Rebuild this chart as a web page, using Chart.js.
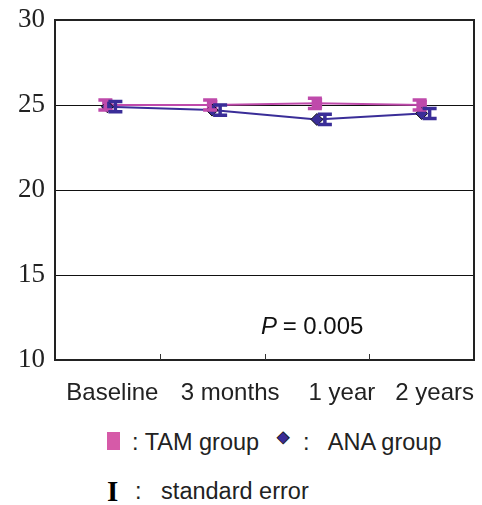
<!DOCTYPE html>
<html>
<head>
<meta charset="utf-8">
<script src="https://cdn.jsdelivr.net/npm/chart.js@4.4.1/dist/chart.umd.min.js"></script>
<style>
  body { margin: 0; background: #fff; width: 482px; height: 505px; position: relative; overflow: hidden; }
  #wrap { position: absolute; left: 0; top: 0; width: 482px; height: 410px; }
  .leg { position: absolute; font-family: "Liberation Sans", Arial, sans-serif; font-size: 23.5px; color: #222; white-space: pre; line-height: 28px; }
  .sq { position: absolute; width: 13px; height: 18px; background: #d65aa8; }
</style>
</head>
<body>
<div id="wrap"><canvas id="chart"></canvas></div>
<div class="sq" style="left:107px; top:432px;"></div>
<div class="leg" style="left:132px; top:428px;">: TAM group</div>
<div class="leg" style="left:277px; top:423px; font-size:16px; color:#3a2d98; -webkit-text-stroke:0.8px #111;">◆</div>
<div class="leg" style="left:303px; top:428px;">:   ANA group</div>
<div class="leg" style="left:107px; top:477px; font-family:'Liberation Serif', serif; font-weight:bold; font-size:29px; color:#000;">I</div>
<div class="leg" style="left:135px; top:477px;">:   standard error</div>
<script>
// Datos
const categories = ['Baseline', '3 months', '1 year', '2 years'];
const tamValues = [25.0, 25.0, 25.1, 25.0];
const tamErr = [0.3, 0.3, 0.3, 0.3];
const anaValues = [24.9, 24.7, 24.15, 24.5];
const anaErr = [0.3, 0.3, 0.3, 0.3];
const yTicks = [10, 15, 20, 25, 30];

const tamColor = '#bf4aab';
const anaColor = '#3a2d98';
// desplazamiento horizontal de cada etiqueta del eje x
const labelShift = [5, 18, 25, 13];

// Barras de error, etiquetas y marcas del eje x
const errorBars = {
    id: 'errorBars',
    afterDatasetsDraw(chart) {
        const ctx = chart.ctx;
        const x = chart.scales.x, y = chart.scales.y;
        const sets = [
            { vals: tamValues, err: tamErr, color: tamColor, dx: -2 },
            { vals: anaValues, err: anaErr, color: anaColor, dx: 8 }
        ];
        ctx.save();
        sets.forEach(s => {
            ctx.strokeStyle = s.color;
            ctx.lineWidth = 3.5;
            ctx.lineCap = 'butt';
            s.vals.forEach((v, i) => {
                const px = x.getPixelForValue(i) + s.dx;
                const top = y.getPixelForValue(v + s.err[i]);
                const bot = y.getPixelForValue(v - s.err[i]);
                ctx.beginPath();
                ctx.moveTo(px, top); ctx.lineTo(px, bot);
                ctx.moveTo(px - 7, top); ctx.lineTo(px + 7, top);
                ctx.moveTo(px - 7, bot); ctx.lineTo(px + 7, bot);
                ctx.stroke();
            });
        });
        // marcas pequeñas en el eje inferior
        ctx.strokeStyle = '#333';
        ctx.lineWidth = 1;
        for (let i = 1; i < categories.length; i++) {
            const px = Math.round((x.getPixelForValue(i - 1) + x.getPixelForValue(i)) / 2) + 0.5;
            ctx.beginPath();
            ctx.moveTo(px, y.bottom);
            ctx.lineTo(px, y.bottom - 6);
            ctx.stroke();
        }
        // etiquetas de categorías
        ctx.fillStyle = '#222';
        ctx.textAlign = 'center';
        ctx.textBaseline = 'middle';
        ctx.font = '24px "Liberation Sans", Arial, sans-serif';
        categories.forEach((c, i) => {
            ctx.fillText(c, x.getPixelForValue(i) + labelShift[i], y.bottom + 33);
        });
        // P valor
        ctx.fillStyle = '#111';
        ctx.textAlign = 'left';
        ctx.font = 'italic 24px "Liberation Sans", Arial, sans-serif';
        ctx.fillText('P', 261, 327);
        ctx.font = '24px "Liberation Sans", Arial, sans-serif';
        ctx.fillText(' = 0.005', 276, 327);
        ctx.restore();
    }
};

function initChart() {
    new Chart(document.getElementById('chart'), {
        type: 'line',
        data: {
            labels: categories,
            datasets: [{
                label: 'ANA group',
                data: anaValues,
                borderColor: anaColor,
                borderWidth: 2,
                pointStyle: 'rectRot',
                pointRadius: 6,
                pointBackgroundColor: anaColor,
                pointBorderColor: '#111',
                pointBorderWidth: 1,
                tension: 0
            }, {
                label: 'TAM group',
                data: tamValues,
                borderColor: tamColor,
                borderWidth: 2,
                pointStyle: 'rect',
                pointRadius: 6,
                pointBackgroundColor: tamColor,
                pointBorderColor: tamColor,
                tension: 0
            }]
        },
        options: {
            responsive: false,
            animation: false,
            devicePixelRatio: 1,
            layout: { padding: { top: 20, right: 8, left: 0, bottom: 0 } },
            plugins: { legend: { display: false }, tooltip: { enabled: false } },
            scales: {
                x: {
                    offset: true,
                    grid: { display: false },
                    border: { color: '#222', width: 2 },
                    ticks: { display: false },
                    afterFit: s => { s.height = 50; }
                },
                y: {
                    min: 10,
                    max: 30,
                    afterBuildTicks: s => { s.ticks = yTicks.map(v => ({ value: v })); },
                    grid: { color: '#111', lineWidth: 1, drawTicks: false },
                    border: { color: '#222', width: 2 },
                    ticks: {
                        color: '#222',
                        padding: 10,
                        font: { family: '"Liberation Serif", "Times New Roman", serif', size: 27 }
                    },
                    afterFit: s => { s.width = 55; s.paddingTop = 0; s.paddingBottom = 0; }
                }
            }
        },
        plugins: [errorBars, {
            id: 'frame',
            afterDraw(chart) {
                const a = chart.chartArea, ctx = chart.ctx;
                ctx.save();
                ctx.strokeStyle = '#222';
                ctx.lineWidth = 2;
                ctx.beginPath();
                ctx.moveTo(a.left, a.top); ctx.lineTo(a.right, a.top); ctx.lineTo(a.right, a.bottom);
                ctx.stroke();
                ctx.restore();
            }
        }]
    });
}

document.getElementById('chart').width = 482;
document.getElementById('chart').height = 410;
initChart();
</script>
</body>
</html>
